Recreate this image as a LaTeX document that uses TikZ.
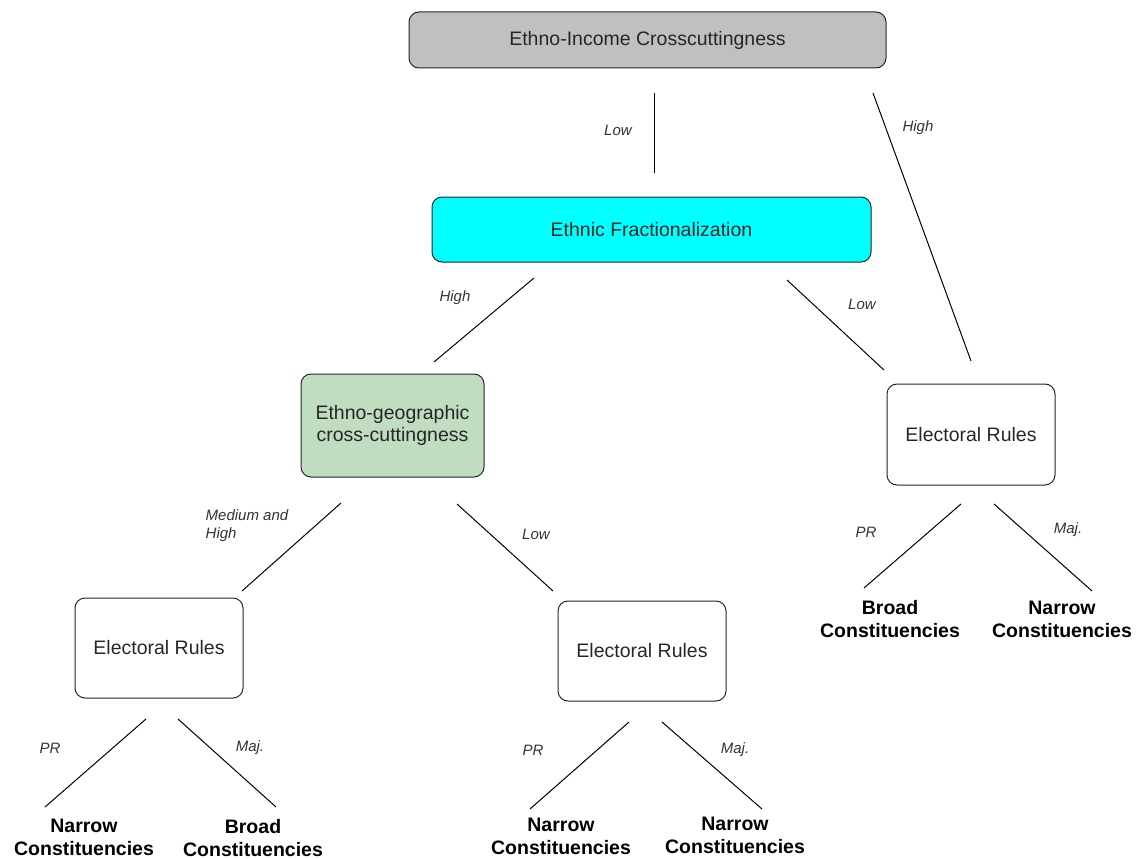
\documentclass[tikz,border=0pt]{standalone}
\usepackage{fontspec}
\setmainfont{Liberation Sans}
\definecolor{boxgray}{HTML}{C0C0C0}
\definecolor{boxcyan}{HTML}{00FFFF}
\definecolor{boxgreen}{HTML}{C1DDC0}
\definecolor{labelgray}{HTML}{333333}
\begin{document}
\begin{tikzpicture}[x=1pt,y=-1pt,
  box/.style={draw=black!85, line width=1pt, rounded corners=10pt, align=center,
    inner sep=0pt, font=\fontsize{19.5}{22.5}\selectfont, text=black!85},
  lab/.style={font=\fontsize{15}{18}\selectfont\itshape, text=labelgray, align=left, inner sep=0pt},
  leaf/.style={font=\fontsize{19.5}{23}\selectfont\bfseries, align=center, inner sep=0pt},
  conn/.style={draw=black, line width=1pt}]
\useasboundingbox (0,0) rectangle (1144,859);
% boxes
\node[box, fill=boxgray, minimum width=477pt, minimum height=56pt] (top) at (647.5,40) {Ethno-Income Crosscuttingness};
\node[box, fill=boxcyan, minimum width=439pt, minimum height=65pt] (ef) at (651.5,229.5) {Ethnic Fractionalization};
\node[box, fill=boxgreen, minimum width=183pt, minimum height=103pt] (eg) at (392.5,425.5) {Ethno-geographic\\cross-cuttingness};
\node[box, minimum width=168pt, minimum height=101pt] (err) at (971,434.5) {Electoral Rules};
\node[box, minimum width=168pt, minimum height=100pt] (erl) at (159,648) {Electoral Rules};
\node[box, minimum width=168pt, minimum height=100pt] (erm) at (642,651) {Electoral Rules};
% leaves
\node[leaf] (l1) at (84,837) {Narrow\\Constituencies};
\node[leaf] (l2) at (253,838) {Broad\\Constituencies};
\node[leaf] (l3) at (561,836) {Narrow\\Constituencies};
\node[leaf] (l4) at (735,835) {Narrow\\Constituencies};
\node[leaf] (l5) at (890,619) {Broad\\Constituencies};
\node[leaf] (l6) at (1062,619) {Narrow\\Constituencies};
% connector end points
\coordinate (topLowA) at (654,93);   \coordinate (topLowB) at (654,173);
\coordinate (topHighA) at (873,93);  \coordinate (topHighB) at (971,361);
\coordinate (efHighA) at (534,278);  \coordinate (efHighB) at (434,362);
\coordinate (efLowA) at (787,280);   \coordinate (efLowB) at (884,370);
\coordinate (egMedA) at (341,503);   \coordinate (egMedB) at (242,591);
\coordinate (egLowA) at (457,504);   \coordinate (egLowB) at (553,591);
\coordinate (erlPRA) at (146,719);   \coordinate (erlPRB) at (45,807);
\coordinate (erlMajA) at (178,719);  \coordinate (erlMajB) at (276,807);
\coordinate (ermPRA) at (629,722);   \coordinate (ermPRB) at (530,809);
\coordinate (ermMajA) at (662,722);  \coordinate (ermMajB) at (762,809);
\coordinate (errPRA) at (961,504);   \coordinate (errPRB) at (864,588);
\coordinate (errMajA) at (994,504);  \coordinate (errMajB) at (1092,591);
% connectors
\draw[conn] (topLowA) -- (topLowB);
\draw[conn] (topHighA) -- (topHighB);
\draw[conn] (efHighA) -- (efHighB);
\draw[conn] (efLowA) -- (efLowB);
\draw[conn] (egMedA) -- (egMedB);
\draw[conn] (egLowA) -- (egLowB);
\draw[conn] (erlPRA) -- (erlPRB);
\draw[conn] (erlMajA) -- (erlMajB);
\draw[conn] (ermPRA) -- (ermPRB);
\draw[conn] (ermMajA) -- (ermMajB);
\draw[conn] (errPRA) -- (errPRB);
\draw[conn] (errMajA) -- (errMajB);
% labels
\node[lab] (t1) at (618,130) {Low};
\node[lab] (t2) at (918,128) {High};
\node[lab] (t3) at (455,298) {High};
\node[lab] (t4) at (862,304) {Low};
\node[lab] (t5) at (247,526) {Medium and\\High};
\node[lab] (t6) at (536,534) {Low};
\node[lab] (t7) at (50,748) {PR};
\node[lab] (t8) at (250,748) {Maj.};
\node[lab] (t9) at (533,750) {PR};
\node[lab] (t10) at (735,750) {Maj.};
\node[lab] (t11) at (866,532) {PR};
\node[lab] (t12) at (1068,530) {Maj.};
\end{tikzpicture}
\end{document}
